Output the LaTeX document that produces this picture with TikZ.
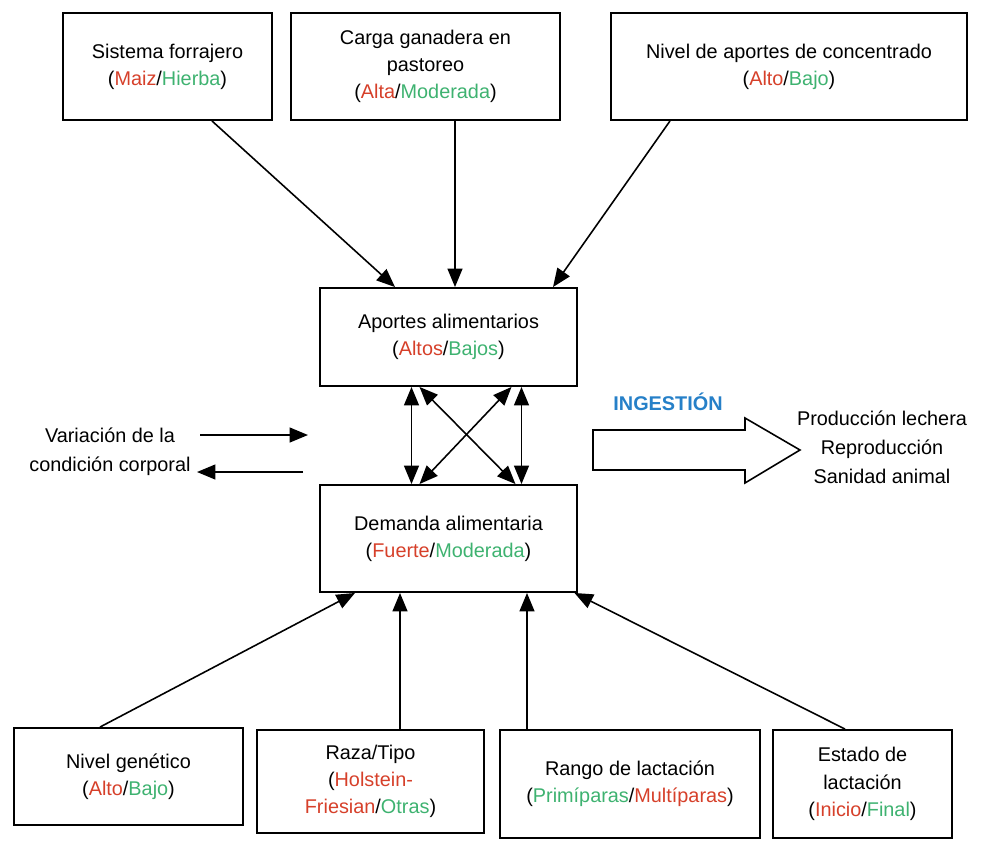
\documentclass[tikz,border=0pt]{standalone}
\usepackage{fontspec}
\setmainfont{Liberation Sans}
\usetikzlibrary{arrows.meta,calc}
\definecolor{rojo}{RGB}{214,64,42}
\definecolor{verde}{RGB}{62,178,112}
\definecolor{azul}{RGB}{38,128,200}
\newcommand{\alto}[1]{\textcolor{rojo}{#1}}
\newcommand{\bajo}[1]{\textcolor{verde}{#1}}

\begin{document}
\begin{tikzpicture}[x=0.02cm, y=-0.02cm,
    caja/.style={draw, line width=1.1pt, align=center, inner sep=0pt,
                 font=\fontsize{11.3}{15.5}\selectfont},
    texto/.style={align=center, inner sep=1pt, font=\fontsize{11.3}{16.5}\selectfont},
    flecha/.style={line width=0.9pt, -{Triangle[length=10.5pt,width=8.5pt]}},
    doble/.style={line width=0.9pt, {Triangle[length=10.5pt,width=8.5pt]}-{Triangle[length=10.5pt,width=8.5pt]}}]
    \useasboundingbox (0,0) rectangle (985,840);

    % factores de los aportes
    \node[caja, minimum width=4.18cm, minimum height=2.14cm] (forraje) at (167.5,66.5)
        {Sistema forrajero\\(\alto{Maiz}/\bajo{Hierba})};
    \node[caja, minimum width=5.38cm, minimum height=2.14cm] (carga) at (425.5,66.5)
        {Carga ganadera en\\pastoreo\\(\alto{Alta}/\bajo{Moderada})};
    \node[caja, minimum width=7.12cm, minimum height=2.14cm] (concentrado) at (789,66.5)
        {Nivel de aportes de concentrado\\(\alto{Alto}/\bajo{Bajo})};

    % bloques centrales
    \node[caja, minimum width=5.14cm, minimum height=1.96cm] (aportes) at (448.5,337)
        {Aportes alimentarios\\(\alto{Altos}/\bajo{Bajos})};
    \node[caja, minimum width=5.14cm, minimum height=2.14cm] (demanda) at (448.5,538.5)
        {Demanda alimentaria\\(\alto{Fuerte}/\bajo{Moderada})};

    % factores de la demanda
    \node[caja, minimum width=4.58cm, minimum height=1.94cm] (genetico) at (128.5,776.5)
        {Nivel genético\\(\alto{Alto}/\bajo{Bajo})};
    \node[caja, minimum width=4.54cm, minimum height=2.06cm] (raza) at (370.5,781.5)
        {Raza/Tipo\\(\alto{Holstein-}\\\alto{Friesian}/\bajo{Otras})};
    \node[caja, minimum width=5.2cm, minimum height=2.16cm] (rango) at (630,784)
        {Rango de lactación\\(\bajo{Primíparas}/\alto{Multíparas})};
    \node[caja, minimum width=3.58cm, minimum height=2.16cm] (estado) at (862.5,784)
        {Estado de\\lactación\\(\alto{Inicio}/\bajo{Final})};

    % textos libres
    \node[texto] (corporal) at (110,452) {Variación de la\\condición corporal};
    \node[font=\fontsize{11.3}{12}\selectfont\bfseries, text=azul] (ingestion) at (668,402) {INGESTIÓN};
    \node[texto] (salidas) at (882,447) {Producción lechera\\Reproducción\\Sanidad animal};

    \coordinate (cc1) at (200,435);
    \coordinate (cc2) at (308,435);
    \coordinate (cc3) at (303,472);
    \coordinate (cc4) at (197,472);

    \draw[flecha] ($(forraje.south)+(44.5,0)$) -- ($(aportes.north)+(-53.5,0)$); % forraje
    \draw[flecha] ($(carga.south)+(29.5,0)$) -- ($(aportes.north)+(6.5,0)$); % carga
    \draw[flecha] ($(concentrado.south)+(-119,0)$) -- ($(aportes.north)+(104.5,0)$); % concentrado

    \draw[doble] ($(aportes.south)+(-37,0)$) -- ($(demanda.north)+(-37,0)$);
    \draw[doble] ($(aportes.south)+(73,0)$) -- ($(demanda.north)+(73,0)$);
    \draw[doble] ($(aportes.south)+(-29,0)$) -- ($(demanda.north)+(67,0)$);
    \draw[doble] ($(aportes.south)+(63,0)$) -- ($(demanda.north)+(-29,0)$);

    \draw[flecha] (cc1) -- (cc2);
    \draw[flecha] (cc3) -- (cc4);

    % flecha hueca de la ingestion
    \draw[line width=0.9pt] (593,430) -- (745,430) -- (745,418) -- (800,450)
        -- (745,483) -- (745,470) -- (593,470) -- cycle;

    \draw[flecha] ($(genetico.north)+(-28.5,0)$) -- ($(demanda.south)+(-93.5,0)$); % genetico
    \draw[flecha] ($(raza.north)+(29.5,0)$) -- ($(demanda.south)+(-48.5,0)$); % raza
    \draw[flecha] ($(rango.north)+(-103,0)$) -- ($(demanda.south)+(78.5,0)$); % rango
    \draw[flecha] ($(estado.north)+(-17.5,0)$) -- ($(demanda.south)+(126,0)$); % estado
\end{tikzpicture}
\end{document}
